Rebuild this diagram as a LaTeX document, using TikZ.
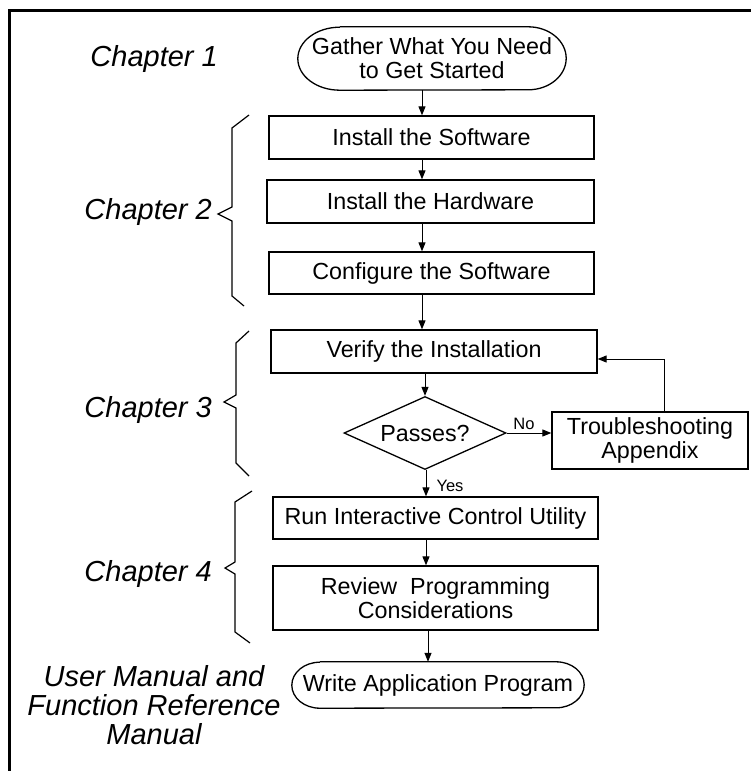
\documentclass[tikz,border=0pt]{standalone}
\usepackage{fontspec}
\setmainfont{Liberation Sans}
\usetikzlibrary{arrows.meta,shapes.geometric}
\newcommand{\boxfont}{\fontsize{23.3}{24}\selectfont}
\newcommand{\labfont}{\fontsize{29}{29}\selectfont\itshape}
\newcommand{\ynfont}{\fontsize{16.5}{18}\selectfont}
\begin{document}
\begin{tikzpicture}[x=1pt,y=-1pt,
  box/.style={draw, line width=1.3pt, inner sep=0pt, align=center, font=\boxfont},
  term/.style={inner sep=0pt, align=center, font=\boxfont},
  termline/.style={draw, line width=1.3pt},
  arr/.style={draw, line width=1pt, -{Triangle[length=9pt,width=7pt]}},
  bracestyle/.style={draw, line width=1.2pt, line join=miter},
  lab/.style={inner sep=0pt, font=\labfont, align=center},
  yn/.style={inner sep=1pt, font=\ynfont},
  frame/.style={draw, line width=3.5pt}]
\useasboundingbox (0,0) rectangle (750,771);

% frame
\coordinate (fa) at (9.5,775);
\coordinate (fb) at (9.5,10.5);
\coordinate (fc) at (755,10.5);
\draw[frame] (fa) -- (fb) -- (fc);

% spine coordinates for connectors
\coordinate (sp1) at (422,0);
\coordinate (sp3) at (426,0);
\coordinate (sp4) at (428,0);

% terminals
\node[term, minimum width=268pt, minimum height=63pt] (start) at (432,58.5) {Gather What You Need\\to Get Started};
\draw[termline] ([xshift=42pt]start.north west) -- ([xshift=-38pt]start.north east)
  arc[start angle=90, end angle=-90, x radius=38pt, y radius=31.5pt]
  -- ([xshift=42pt]start.south west)
  arc[start angle=270, end angle=90, x radius=42pt, y radius=31.5pt];

\node[term, minimum width=292pt, minimum height=46pt] (write) at (438,685) {Write Application Program};
\draw[termline] ([xshift=28pt]write.north west) -- ([xshift=-28pt]write.north east)
  arc[start angle=90, end angle=-90, x radius=28pt, y radius=23pt]
  -- ([xshift=28pt]write.south west)
  arc[start angle=270, end angle=90, x radius=28pt, y radius=23pt];

% boxes
\node[box, minimum width=325pt, minimum height=43pt] (isw) at (431.5,137.5) {Install the Software};
\node[box, minimum width=327pt, minimum height=43pt] (ihw) at (430.5,201.5) {Install the Hardware};
\node[box, minimum width=325pt, minimum height=42pt] (csw) at (431.5,273) {Configure the Software};
\node[box, minimum width=326pt, minimum height=43pt] (ver) at (434,351.5) {Verify the Installation};
\node[draw, diamond, line width=1.3pt, aspect=2.22, minimum width=162pt, minimum height=73pt,
      inner sep=0pt, font=\boxfont] (pass) at (425,433) {Passes?};
\node[box, minimum width=196pt, minimum height=57pt] (trb) at (650,440.5) {Troubleshooting\\Appendix};
\node[box, minimum width=325pt, minimum height=42pt] (run) at (435.5,518) {Run Interactive Control Utility};
\node[box, minimum width=325pt, minimum height=64pt] (rev) at (435.5,598) {Review\ \ Programming\\Considerations};

% connectors
\draw[arr] (start.south -| sp1) -- (isw.north -| sp1);
\draw[arr] (isw.south -| sp1) -- (ihw.north -| sp1);
\draw[arr] (ihw.south -| sp1) -- (csw.north -| sp1);
\draw[arr] (csw.south -| sp1) -- (ver.north -| sp1);
\draw[arr] (ver.south -| pass.north) -- (pass.north);
\draw[arr] (pass.east) -- node[yn, above=2pt, xshift=-5pt] (no) {No} (pass.east -| trb.west);
\draw[arr] ([xshift=14pt]trb.north) |- ([yshift=-7.5pt]ver.east);
\draw[arr] (pass.south -| sp3) -- node[yn, right=9pt, yshift=-3pt] (yes) {Yes} (run.north -| sp3);
\draw[arr] (run.south -| sp3) -- (rev.north -| sp3);
\draw[arr] (rev.south -| sp4) -- (write.north -| sp4);

% chapter labels
\node[lab, anchor=base east] (ch1) at (218,66) {Chapter 1};
\node[lab, anchor=base east] (ch2) at (212,219) {Chapter 2};
\node[lab, anchor=base east] (ch3) at (212,417) {Chapter 3};
\node[lab, anchor=base east] (ch4) at (212,581) {Chapter 4};
\node[lab] (ref) at (154,705.5) {User Manual and\\Function Reference\\Manual};

% braces
\draw[bracestyle] (249,115) -- (232,128) -- (232,207) -- (218,214) -- (232,221) -- (232,296) -- (244,306);
\draw[bracestyle] (249,331) -- (236,343) -- (236,395) -- (224,402) -- (236,408) -- (236,463) -- (249,476);
\draw[bracestyle] (252,491) -- (235,502) -- (235,562) -- (225,568) -- (235,574) -- (235,632) -- (250,643);
\end{tikzpicture}
\end{document}
